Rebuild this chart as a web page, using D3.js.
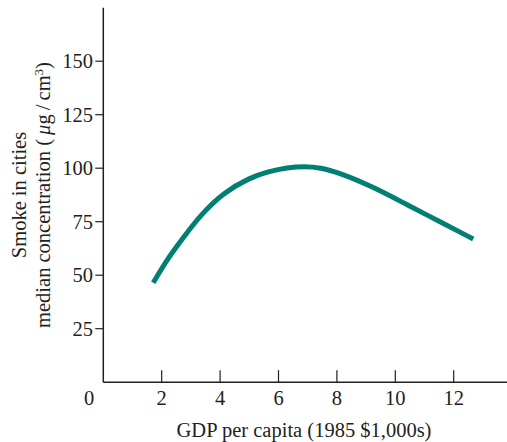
<!DOCTYPE html>
<html><head><meta charset="utf-8">
<script src="https://cdn.jsdelivr.net/npm/d3@7"></script>
<style>body{margin:0;background:#fff}svg{display:block}</style>
</head><body>
<svg id="c" width="507" height="442"></svg>
<script>
const gdp   = [1.71, 2.23, 2.8, 3.3, 4.11, 5.02, 5.65, 6.3, 6.9, 7.42, 8.1, 9.25, 10.39, 11.53, 12.67];
const smoke = [46.5, 58.4, 68.6, 77.6, 88.6, 95.6, 98.4, 100.3, 100.9, 100.3, 97.8, 91.2, 83.0, 75.0, 66.9];
const xTicks = [2, 4, 6, 8, 10, 12];
const yTicks = [25, 50, 75, 100, 125, 150];

const svg = d3.select("#c");
const font = "'Liberation Serif', 'Times New Roman', serif";
const ink = "#231f20";
const fs = 20.5;
const x = d3.scaleLinear().domain([0, 14]).range([103.3, 103.3 + 14 * 29.2]);
const y = d3.scaleLinear().domain([0, 175]).range([382.2, 382.2 - 175 * 2.14]);

// axes lines
svg.append("line").attr("x1", x(0)).attr("x2", x(14)).attr("y1", y(0)).attr("y2", y(0))
  .attr("stroke", ink).attr("stroke-width", 1.5);
svg.append("line").attr("x1", x(0)).attr("x2", x(0)).attr("y1", y(0)).attr("y2", y(175))
  .attr("stroke", ink).attr("stroke-width", 1.5);

// x ticks (inward)
const xa = svg.append("g");
xTicks.forEach(t => {
  xa.append("line").attr("x1", x(t)).attr("x2", x(t)).attr("y1", y(0)).attr("y2", y(0) - 12)
    .attr("stroke", ink).attr("stroke-width", 1.2);
  xa.append("text").attr("x", x(t)).attr("y", 405).attr("text-anchor", "middle")
    .attr("font-family", font).attr("font-size", fs).attr("fill", ink).text(t);
});
svg.append("text").attr("x", 89).attr("y", 405).attr("text-anchor", "middle")
  .attr("font-family", font).attr("font-size", fs).attr("fill", ink).text("0");

// y ticks (outward)
const ya = svg.append("g");
yTicks.forEach(t => {
  ya.append("line").attr("x1", x(0) - 8).attr("x2", x(0)).attr("y1", y(t)).attr("y2", y(t))
    .attr("stroke", ink).attr("stroke-width", 1.2);
  ya.append("text").attr("x", 93).attr("y", y(t)).attr("dy", "0.34em").attr("text-anchor", "end")
    .attr("font-family", font).attr("font-size", fs).attr("fill", ink).text(t);
});

// titles
svg.append("text").attr("x", 304).attr("y", 437).attr("text-anchor", "middle")
  .attr("font-family", font).attr("font-size", fs).attr("fill", ink)
  .text("GDP per capita (1985 $1,000s)");

svg.append("text").attr("transform", "translate(26,195) rotate(-90)")
  .attr("text-anchor", "middle").attr("font-family", font).attr("font-size", fs).attr("fill", ink)
  .text("Smoke in cities");
const l2 = svg.append("text").attr("transform", "translate(50,195) rotate(-90)")
  .attr("text-anchor", "middle").attr("font-family", font).attr("font-size", fs).attr("fill", ink);
l2.append("tspan").text("median concentration (\u2009");
l2.append("tspan").attr("font-style", "italic").text("μ");
l2.append("tspan").text("g\u2009/\u2009cm");
l2.append("tspan").attr("font-size", 13).attr("dy", "-0.55em").text("3");
l2.append("tspan").attr("dy", "0.36em").text(")");

// curve
const data = gdp.map((g, i) => [g, smoke[i]]);
svg.append("path").datum(data)
  .attr("d", d3.line().x(d => x(d[0])).y(d => y(d[1])).curve(d3.curveBasis))
  .attr("fill", "none").attr("stroke", "#007f72").attr("stroke-width", 5);
</script>
</body></html>
